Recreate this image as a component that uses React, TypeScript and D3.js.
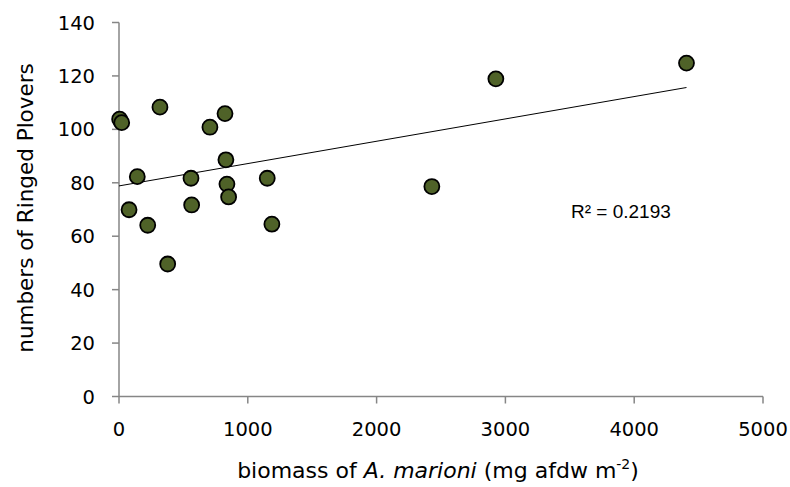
import React from "react";
import * as d3 from "d3";

const biomass = [5, 21, 318, 823, 706, 830, 142, 559, 1151, 838, 851, 564, 78, 223, 1187, 378, 2926, 4406, 2429];
const plovers = [103.8, 102.5, 108.3, 105.9, 100.8, 88.6, 82.3, 81.7, 81.7, 79.5, 74.7, 71.7, 69.9, 64.1, 64.5, 49.6, 118.9, 124.8, 78.6];
const xTicks = [0, 1000, 2000, 3000, 4000, 5000];
const yTicks = [0, 20, 40, 60, 80, 100, 120, 140];
const r2Label = "R² = 0.2193";

const W = 790, H = 487;
const x = d3.scaleLinear().domain([0, 5000]).range([119, 763]);
const y = d3.scaleLinear().domain([0, 140]).range([396.5, 22.5]);

function regression(xs: number[], ys: number[]) {
  const mx = d3.mean(xs)!, my = d3.mean(ys)!;
  let sxy = 0, sxx = 0;
  xs.forEach((v, i) => { sxy += (v - mx) * (ys[i] - my); sxx += (v - mx) * (v - mx); });
  const slope = sxy / sxx;
  return { slope, intercept: my - slope * mx };
}

export default function App() {
  const { slope, intercept } = regression(biomass, plovers);
  const xMax = d3.max(biomass)!;
  const line = d3.line<number>().x(d => x(d)).y(d => y(intercept + slope * d));
  const axisColor = "#868686";
  const tickFont = "'DejaVu Sans', Verdana, sans-serif";
  return (
    <div style={{ position: "absolute", left: 0, top: 0 }}>
      <svg width={W} height={H} style={{ display: "block", background: "#fff" }}>
        <line x1={x(0)} x2={x(0)} y1={y(0)} y2={y(140)} stroke={axisColor} strokeWidth={1.5} />
        <line x1={x(0)} x2={x(5000)} y1={y(0)} y2={y(0)} stroke={axisColor} strokeWidth={1.5} />
        {yTicks.map(t => (
          <g key={"y" + t}>
            <line x1={x(0) - 7} x2={x(0)} y1={y(t)} y2={y(t)} stroke={axisColor} strokeWidth={1.5} />
            <text x={95} y={y(t)} dy="0.36em" textAnchor="end" fontFamily={tickFont} fontSize={19.5} fill="#000">{t}</text>
          </g>
        ))}
        {xTicks.map(t => (
          <g key={"x" + t}>
            <line x1={x(t)} x2={x(t)} y1={y(0)} y2={y(0) + 7} stroke={axisColor} strokeWidth={1.5} />
            <text x={x(t)} y={436} textAnchor="middle" fontFamily={tickFont} fontSize={19.5} fill="#000">{t}</text>
          </g>
        ))}
        <path d={line([0, xMax]) || ""} fill="none" stroke="#000" strokeWidth={1} />
        {biomass.map((b, i) => (
          <circle key={i} cx={x(b)} cy={y(plovers[i])} r={7.5} fill="#4F6228" stroke="#000" strokeWidth={1.8} />
        ))}
        <text x={571} y={218} fontFamily="'Liberation Sans', Arial, sans-serif" fontSize={19} fill="#000">{r2Label}</text>
        <text x={438} y={478} textAnchor="middle" fontFamily={tickFont} fontSize={22} fill="#000">
          biomass of <tspan fontStyle="italic">A. marioni</tspan> (mg afdw m<tspan dy={-9} fontSize={14}>-2</tspan><tspan dy={9}>)</tspan>
        </text>
        <text transform={`translate(33,208) rotate(-90)`} textAnchor="middle" fontFamily={tickFont} fontSize={21.5} fill="#000">numbers of Ringed Plovers</text>
      </svg>
    </div>
  );
}
